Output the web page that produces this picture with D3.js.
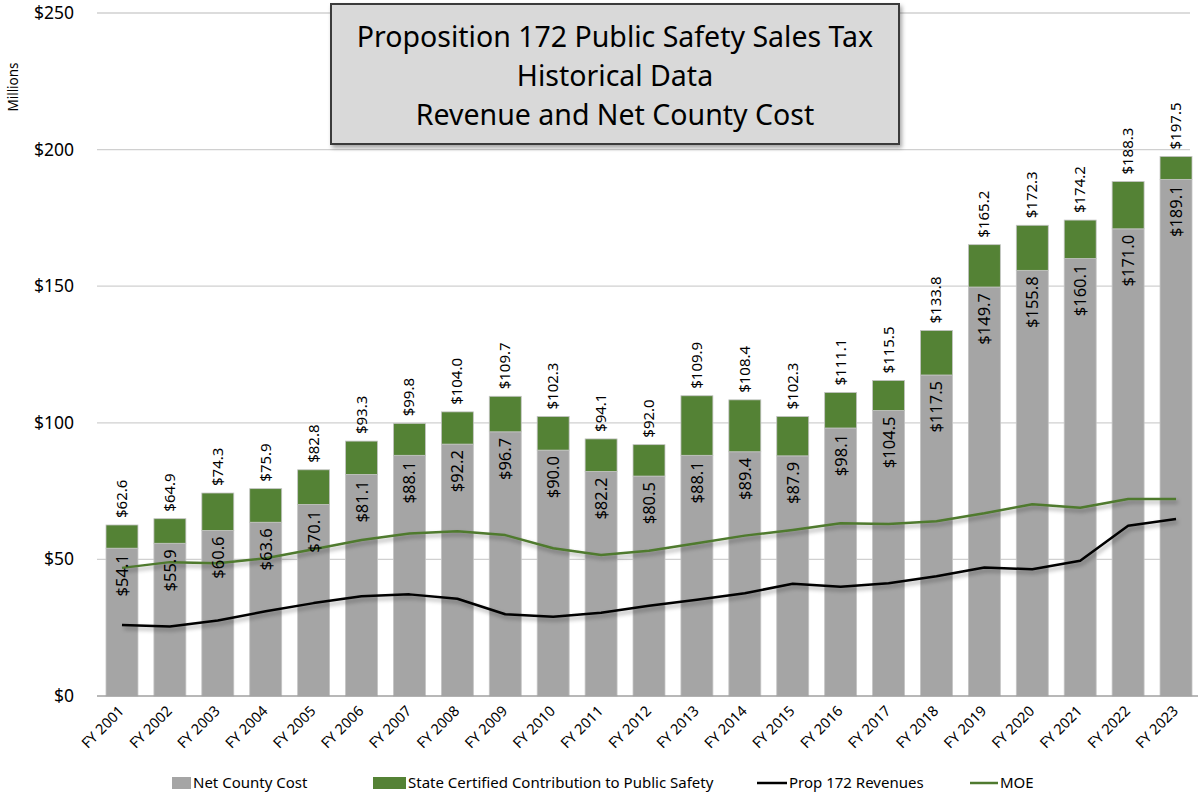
<!DOCTYPE html>
<html>
<head>
<meta charset="utf-8">
<script src="https://cdn.jsdelivr.net/npm/d3@7"></script>
<style>
  body { margin: 0; background: #fff; }
  text { font-family: 'Noto Sans', sans-serif; fill: #000; }
</style>
</head>
<body>
<div id="chart"></div>
<script>
const years = ['FY 2001', 'FY 2002', 'FY 2003', 'FY 2004', 'FY 2005', 'FY 2006', 'FY 2007', 'FY 2008',
  'FY 2009', 'FY 2010', 'FY 2011', 'FY 2012', 'FY 2013', 'FY 2014', 'FY 2015', 'FY 2016', 'FY 2017',
  'FY 2018', 'FY 2019', 'FY 2020', 'FY 2021', 'FY 2022', 'FY 2023']
const netCountyCost = [54.1, 55.9, 60.6, 63.6, 70.1, 81.1, 88.1, 92.2, 96.7, 90.0, 82.2, 80.5,
  88.1, 89.4, 87.9, 98.1, 104.5, 117.5, 149.7, 155.8, 160.1, 171.0, 189.1]
const totalCost = [62.6, 64.9, 74.3, 75.9, 82.8, 93.3, 99.8, 104.0, 109.7, 102.3, 94.1, 92.0,
  109.9, 108.4, 102.3, 111.1, 115.5, 133.8, 165.2, 172.3, 174.2, 188.3, 197.5]
const prop172Revenues = [26.0, 25.4, 27.6, 31.0, 34.0, 36.5, 37.2, 35.6, 29.9, 29.0, 30.5, 33.0,
  35.2, 37.6, 41.1, 40.0, 41.3, 43.8, 47.0, 46.4, 49.5, 62.3, 64.8]
const moe = [46.9, 49.0, 48.6, 50.4, 53.7, 57.1, 59.5, 60.3, 58.9, 54.1, 51.6, 53.2,
  55.9, 58.7, 60.8, 63.2, 63.0, 64.0, 66.9, 70.2, 68.9, 72.1, 72.1]
const yTicks = [0, 50, 100, 150, 200, 250]
const titleLines = ['Proposition 172 Public Safety Sales Tax', 'Historical Data', 'Revenue and Net County Cost']

const width = 1198
const height = 794
const gray = '#a5a5a5'
const green = '#548235'

const svg = d3.select('#chart').append('svg')
  .attr('width', width)
  .attr('height', height)

const defs = svg.append('defs')
const shadow = defs.append('filter').attr('id', 'shadow')
  .attr('x', '-10%').attr('y', '-10%').attr('width', '130%').attr('height', '140%')
shadow.append('feDropShadow')
  .attr('dx', 2).attr('dy', 3).attr('stdDeviation', 2)
  .attr('flood-color', '#000').attr('flood-opacity', 0.35)

const x = d3.scaleBand()
  .domain(years)
  .range([98, 1200])
  .paddingInner(0.333)
  .paddingOuter(0.167)

const y = d3.scaleLinear()
  .domain([0, 250])
  .range([696, 13])

// gridlines + y labels
svg.append('g')
  .selectAll('line')
  .data(yTicks.filter(d => d > 0))
  .enter().append('line')
  .attr('x1', 97).attr('x2', 1190)
  .attr('y1', d => y(d)).attr('y2', d => y(d))
  .attr('stroke', '#d0d0d0')
  .attr('stroke-width', 1.3)

svg.append('g')
  .selectAll('text')
  .data(yTicks)
  .enter().append('text')
  .attr('x', 74)
  .attr('y', d => y(d) + 6)
  .attr('text-anchor', 'end')
  .attr('font-size', 17.5)
  .text(d => '$' + d)

svg.append('text')
  .attr('transform', 'translate(18,87) rotate(-90)')
  .attr('text-anchor', 'middle')
  .attr('font-size', 13.5)
  .text('Millions')

// stacked bars
const barG = svg.append('g')
barG.selectAll('.net')
  .data(years)
  .enter().append('rect')
  .attr('x', d => x(d))
  .attr('width', x.bandwidth())
  .attr('y', (d, i) => y(netCountyCost[i]))
  .attr('height', (d, i) => y(0) - y(netCountyCost[i]))
  .attr('fill', gray)
  .attr('stroke', '#c4c4c4')
  .attr('stroke-width', 0.8)

barG.selectAll('.state')
  .data(years)
  .enter().append('rect')
  .attr('x', d => x(d))
  .attr('width', x.bandwidth())
  .attr('y', (d, i) => y(totalCost[i]))
  .attr('height', (d, i) => y(netCountyCost[i]) - y(totalCost[i]))
  .attr('fill', green)
  .attr('stroke', '#c4c4c4')
  .attr('stroke-width', 0.8)

// axis baseline
svg.append('line')
  .attr('x1', 97).attr('x2', 1200)
  .attr('y1', y(0)).attr('y2', y(0))
  .attr('stroke', '#a0a0a0')
  .attr('stroke-width', 1.3)

// lines
const line = arr => d3.line()
  .x((d, i) => x(years[i]) + x.bandwidth() / 2)
  .y(d => y(d))(arr)

svg.append('path')
  .attr('d', line(moe))
  .attr('fill', 'none')
  .attr('stroke', '#4f7a2f')
  .attr('stroke-width', 2.5)
  .attr('stroke-linejoin', 'round')
  .attr('filter', 'url(#shadow)')

svg.append('path')
  .attr('d', line(prop172Revenues))
  .attr('fill', 'none')
  .attr('stroke', '#000')
  .attr('stroke-width', 2.5)
  .attr('stroke-linejoin', 'round')
  .attr('filter', 'url(#shadow)')

// data labels
svg.append('g')
  .selectAll('text')
  .data(years)
  .enter().append('text')
  .attr('transform', (d, i) => `translate(${x(d) + x.bandwidth() / 2 + 6},${y(netCountyCost[i]) + 6}) rotate(-90)`)
  .attr('text-anchor', 'end')
  .attr('font-size', 16.5)
  .text((d, i) => '$' + netCountyCost[i].toFixed(1))

svg.append('g')
  .selectAll('text')
  .data(years)
  .enter().append('text')
  .attr('transform', (d, i) => `translate(${x(d) + x.bandwidth() / 2 + 5},${y(totalCost[i]) - 7}) rotate(-90)`)
  .attr('text-anchor', 'start')
  .attr('font-size', 15)
  .text((d, i) => '$' + totalCost[i].toFixed(1))

// x labels
svg.append('g')
  .selectAll('text')
  .data(years)
  .enter().append('text')
  .attr('transform', d => `translate(${x(d) + x.bandwidth() / 2 + 3},${y(0) + 16}) rotate(-45)`)
  .attr('text-anchor', 'end')
  .attr('font-size', 14.5)
  .text(d => d)

// title box
const tb = svg.append('g')
tb.append('rect')
  .attr('x', 331).attr('y', 4)
  .attr('width', 568).attr('height', 140)
  .attr('fill', '#d9d9d9')
  .attr('stroke', '#3a3a3a')
  .attr('stroke-width', 2)
  .attr('filter', 'url(#shadow)')
tb.selectAll('text')
  .data(titleLines)
  .enter().append('text')
  .attr('x', 615)
  .attr('y', (d, i) => 47 + i * 39)
  .attr('text-anchor', 'middle')
  .attr('font-size', 28.5)
  .text(d => d)

// legend
const legend = svg.append('g').attr('transform', 'translate(0,783)')
const items = [
  { name: 'Net County Cost', type: 'rect', color: gray, x: 172, w: 19 },
  { name: 'State Certified Contribution to Public Safety', type: 'rect', color: green, x: 373, w: 33 },
  { name: 'Prop 172 Revenues', type: 'line', color: '#000', x: 757, w: 30 },
  { name: 'MOE', type: 'line', color: '#4f7a2f', x: 970, w: 28 }
]
items.forEach(it => {
  if (it.type === 'rect') {
    legend.append('rect').attr('x', it.x).attr('y', -6).attr('width', it.w).attr('height', 12).attr('fill', it.color)
  } else {
    legend.append('line').attr('x1', it.x).attr('x2', it.x + it.w).attr('y1', 0).attr('y2', 0)
      .attr('stroke', it.color).attr('stroke-width', 2.5)
  }
  legend.append('text')
    .attr('x', it.x + it.w + 2)
    .attr('y', 5)
    .attr('font-size', 15)
    .text(it.name)
})
</script>
</body>
</html>
